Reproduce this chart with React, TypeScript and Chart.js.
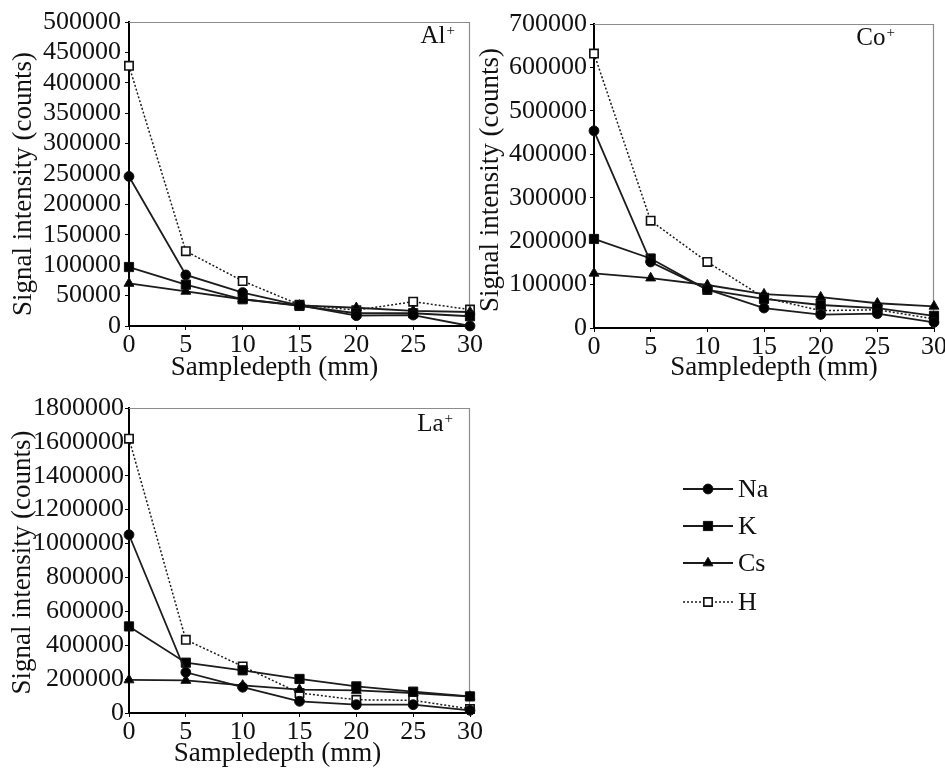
import React, { useEffect, useRef } from 'react';
import { Chart, registerables } from 'chart.js';

Chart.register(...registerables);

// ---------------- data ----------------
const depthsMm = [0, 5, 10, 15, 20, 25, 30];
const seriesLabels = ['Na', 'K', 'Cs', 'H'];

const alNa = [246000, 84000, 55000, 34000, 17000, 18000, 0];
const alK = [97000, 68000, 44000, 33000, 21000, 21000, 16000];
const alCs = [70000, 57000, 44000, 34000, 30000, 25000, 23000];
const alH = [428000, 123000, 74000, 35000, 26000, 40000, 27000];

const coNa = [454000, 152000, 89000, 46000, 31000, 33000, 13000];
const coK = [205000, 160000, 88000, 67000, 53000, 46000, 28000];
const coCs = [126000, 115000, 99000, 78000, 71000, 57000, 50000];
const coH = [632000, 247000, 152000, 70000, 40000, 42000, 21000];

const laNa = [1052000, 240000, 152000, 69000, 49000, 49000, 16000];
const laK = [511000, 297000, 252000, 201000, 157000, 126000, 98000];
const laCs = [195000, 192000, 163000, 138000, 133000, 118000, 97000];
const laH = [1619000, 432000, 275000, 118000, 78000, 75000, 24000];

const ionNames = ['Al', 'Co', 'La'];
const yMaxes = [500000, 700000, 1800000];
const ySteps = [50000, 100000, 200000];
const xTitle = 'Sampledepth (mm)';
const yTitle = 'Signal intensity (counts)';

// ---------------- styles ----------------
const FONT = "'Liberation Serif', 'Times New Roman', serif";
const INK = '#111';

const seriesStyles = [
  { pointStyle: 'circle', radius: 4.9, fill: '#000', dash: [] as number[], width: 1.8 },
  { pointStyle: 'rect', radius: 6.5, fill: '#000', dash: [] as number[], width: 1.8 },
  { pointStyle: 'triangle', radius: 5.7, fill: '#000', dash: [] as number[], width: 1.8 },
  { pointStyle: 'rect', radius: 5.9, fill: '#fff', dash: [2, 2], width: 1.5 },
];

function drawMarker(ctx: CanvasRenderingContext2D, style: string, r: number, x: number, y: number) {
  ctx.beginPath();
  if (style === 'circle') {
    ctx.arc(x, y, r, 0, Math.PI * 2);
  } else if (style === 'rect') {
    const s = r * Math.SQRT1_2;
    ctx.rect(x - s, y - s, 2 * s, 2 * s);
  } else {
    let rad = 0;
    ctx.moveTo(x + Math.sin(rad) * r, y - Math.cos(rad) * r);
    rad += (2 * Math.PI) / 3;
    ctx.lineTo(x + Math.sin(rad) * r, y - Math.cos(rad) * r);
    rad += (2 * Math.PI) / 3;
    ctx.lineTo(x + Math.sin(rad) * r, y - Math.cos(rad) * r);
    ctx.closePath();
  }
  ctx.fill();
  ctx.stroke();
}

// frame (top & right thin grey lines)
const framePlugin = {
  id: 'frame',
  beforeDatasetsDraw(chart: any) {
    const { ctx, chartArea: a } = chart;
    ctx.save();
    ctx.strokeStyle = '#8c8c8c';
    ctx.lineWidth = 1.2;
    ctx.beginPath();
    ctx.moveTo(a.left, a.top + 0.5);
    ctx.lineTo(a.right - 0.5, a.top + 0.5);
    ctx.lineTo(a.right - 0.5, a.bottom);
    ctx.stroke();
    ctx.restore();
  },
};

// ion label (e.g. Al+), axis titles and legend
const annotPlugin = {
  id: 'annot',
  afterDraw(chart: any, _args: any, opts: any) {
    const { ctx, chartArea: a } = chart;
    ctx.save();
    ctx.fillStyle = INK;
    ctx.textBaseline = 'alphabetic';
    // ion label
    ctx.font = `15px ${FONT}`;
    const supW = ctx.measureText('+').width;
    ctx.font = `25px ${FONT}`;
    const mainW = ctx.measureText(opts.ion).width;
    const supX = a.right - opts.ionDx - supW;
    const baseY = a.top + opts.ionDy;
    ctx.textAlign = 'left';
    ctx.fillText(opts.ion, supX - mainW - 1, baseY);
    ctx.font = `15px ${FONT}`;
    ctx.fillText('+', supX, baseY - 8);
    // x title
    ctx.font = `27px ${FONT}`;
    ctx.textAlign = 'center';
    ctx.fillText(opts.xTitle, (a.left + a.right) / 2 + opts.titleDx, a.bottom + opts.titleDy);
    // y title
    ctx.save();
    ctx.translate(opts.yTitleX, (a.top + a.bottom) / 2 + opts.yTitleDy);
    ctx.rotate(-Math.PI / 2);
    ctx.textAlign = 'center';
    ctx.textBaseline = 'middle';
    ctx.fillText(opts.yTitle, 0, 0);
    ctx.restore();
    // legend
    if (opts.legend) {
      const L = opts.legend;
      chart.data.datasets.forEach((ds: any, i: number) => {
        const y = L.y0 + L.dy[i];
        ctx.strokeStyle = ds.borderColor;
        ctx.lineWidth = ds.borderWidth;
        ctx.setLineDash(ds.borderDash || []);
        ctx.beginPath();
        ctx.moveTo(L.x0, y);
        ctx.lineTo(L.x1, y);
        ctx.stroke();
        ctx.setLineDash([]);
        ctx.fillStyle = ds.pointBackgroundColor;
        ctx.strokeStyle = ds.pointBorderColor;
        ctx.lineWidth = ds.pointBorderWidth;
        drawMarker(ctx, ds.pointStyle, ds.pointRadius, (L.x0 + L.x1) / 2, y);
        ctx.fillStyle = INK;
        ctx.font = `26px ${FONT}`;
        ctx.textAlign = 'left';
        ctx.textBaseline = 'middle';
        ctx.fillText(ds.label, L.tx, y + 1);
      });
    }
    ctx.restore();
  },
};

type Panel = {
  idx: number;
  values: number[][];
  left: number; top: number; width: number; height: number;
  padTop: number; padRight: number;
  yWidth: number; xHeight: number; yTickPad: number;
  yTitleX: number; yTitleDy: number;
  ionDx: number; ionDy: number; titleDx: number; titleDy: number;
  legend?: any;
};

const panels: Panel[] = [
  { idx: 0, values: [alNa, alK, alCs, alH], left: 0, top: 0, width: 500, height: 395,
    padTop: 22, padRight: 30, yWidth: 129, xHeight: 69, yTickPad: 4, yTitleX: 24, yTitleDy: 10,
    ionDx: 15, ionDy: 21, titleDx: -25, titleDy: 49 },
  { idx: 1, values: [coNa, coK, coCs, coH], left: 470, top: 0, width: 490, height: 395,
    padTop: 24, padRight: 26, yWidth: 124, xHeight: 67, yTickPad: 3, yTitleX: 21, yTitleDy: 4,
    ionDx: 39, ionDy: 21, titleDx: 10, titleDy: 47 },
  { idx: 2, values: [laNa, laK, laCs, laH], left: 0, top: 385, width: 945, height: 384,
    padTop: 23, padRight: 475, yWidth: 129, xHeight: 56, yTickPad: 1, yTitleX: 23, yTitleDy: 2,
    ionDx: 17, ionDy: 23, titleDx: -22, titleDy: 48,
    legend: { x0: 683, x1: 733, tx: 738, y0: 104, dy: [0, 37, 74, 113] } },
];

function buildConfig(p: Panel): any {
  const tickFont = { family: FONT, size: 26, lineHeight: 1 };
  return {
    type: 'line',
    data: {
      datasets: p.values.map((vals, i) => {
        const s = seriesStyles[i];
        return {
          label: seriesLabels[i],
          data: depthsMm.map((d, j) => ({ x: d, y: vals[j] })),
          borderColor: '#1c1c1c',
          borderWidth: s.width,
          borderDash: s.dash,
          pointStyle: s.pointStyle,
          pointRadius: s.radius,
          pointBackgroundColor: s.fill,
          pointBorderColor: '#111',
          pointBorderWidth: i === 3 ? 1.6 : 1,
          fill: false,
          tension: 0,
          clip: false,
        };
      }),
    },
    options: {
      responsive: false,
      animation: false,
      events: [],
      layout: { padding: { top: p.padTop, right: p.padRight, left: 0, bottom: 0 } },
      plugins: {
        legend: { display: false },
        tooltip: { enabled: false },
        annot: {
          ion: ionNames[p.idx], ionDx: p.ionDx, ionDy: p.ionDy,
          xTitle, titleDx: p.titleDx, titleDy: p.titleDy,
          yTitle, yTitleX: p.yTitleX, yTitleDy: p.yTitleDy,
          legend: p.legend,
        },
      },
      scales: {
        x: {
          type: 'linear', min: 0, max: 30,
          afterFit: (s: any) => { s.height = p.xHeight; },
          ticks: { stepSize: 5, font: tickFont, color: INK, padding: 2, maxRotation: 0,
            callback: (v: any) => String(v) },
          grid: { drawOnChartArea: false, drawTicks: true, tickLength: 4, color: '#000' },
          border: { color: '#000', width: 2 },
        },
        y: {
          type: 'linear', min: 0, max: yMaxes[p.idx],
          afterFit: (s: any) => { s.width = p.yWidth; },
          ticks: { stepSize: ySteps[p.idx], font: tickFont, color: INK, padding: p.yTickPad, autoSkip: false,
            callback: (v: any) => String(v) },
          grid: { drawOnChartArea: false, drawTicks: true, tickLength: 4, color: '#000' },
          border: { color: '#000', width: 2 },
        },
      },
    },
    plugins: [framePlugin, annotPlugin],
  };
}

function PanelChart({ p }: { p: Panel }) {
  const ref = useRef<HTMLCanvasElement | null>(null);
  useEffect(() => {
    if (!ref.current) return;
    const chart = new Chart(ref.current, buildConfig(p));
    return () => chart.destroy();
  }, [p]);
  return (
    <canvas
      ref={ref}
      width={p.width}
      height={p.height}
      style={{ position: 'absolute', left: p.left, top: p.top, width: p.width, height: p.height }}
    />
  );
}

export default function App() {
  return (
    <div style={{ position: 'absolute', left: 0, top: 0, width: 945, height: 769, overflow: 'hidden', background: '#fff' }}>
      {panels.map((p) => (
        <PanelChart key={p.idx} p={p} />
      ))}
    </div>
  );
}
